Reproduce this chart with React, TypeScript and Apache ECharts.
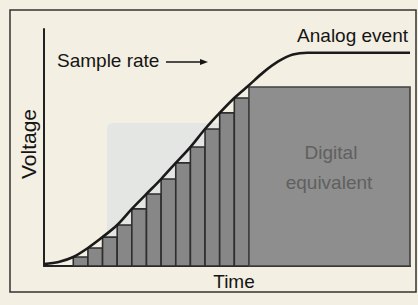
import React, { useEffect, useRef } from "react";
import * as echarts from "echarts";

// Analog event: voltage at each sample period (t = 0..25)
const analogTimes = [0, 1, 2, 3, 4, 5, 6, 7, 8, 9, 10, 11, 12, 13, 14, 15, 16, 17, 18, 19, 20, 21, 22, 23, 24, 25];
const analogValues = [0.8, 1.7, 3.8, 7.6, 12.2, 17.3, 24.1, 30.4, 36.7, 43.5, 50.2, 57.8, 64.6, 70.9, 76.3, 81.8, 86.3, 89.2, 90, 90, 90, 90, 90, 90, 90, 90];

// Digital equivalent: sample-and-hold steps
const sampleTimes = [2, 3, 4, 5, 6, 7, 8, 9, 10, 11, 12, 13];
const sampleValues = [3.8, 7.6, 12.2, 17.3, 24.1, 30.4, 36.7, 43.5, 50.2, 57.8, 64.6, 70.9];
const holdStart = 14;
const holdEnd = 25;
const holdValue = 75.5;

const axisTitles = { x: "Time", y: "Voltage" };
const labels = { sample: "Sample rate", analog: "Analog event", digital: ["Digital", "equivalent"] };

const FONT = '"Liberation Sans", Arial, Helvetica, sans-serif';

export default function App() {
  const ref = useRef<HTMLDivElement>(null);
  useEffect(() => {
    if (!ref.current) return;
    const chart = echarts.init(ref.current, undefined, { renderer: "svg" });
    const stepData: number[][] = sampleTimes.map((t, i) => [t, sampleValues[i], 1]);
    stepData.push([holdStart, holdValue, holdEnd - holdStart]);
    const option: any = {
      animation: false,
      backgroundColor: "#f3efe2",
      grid: { left: 44, top: 29, right: 8, bottom: 39 },
      xAxis: {
        type: "value",
        min: 0,
        max: 25,
        axisLine: { show: true, lineStyle: { color: "#222222", width: 2 } },
        axisTick: { show: false },
        axisLabel: { show: false },
        splitLine: { show: false },
      },
      yAxis: {
        type: "value",
        min: 0,
        max: 100,
        axisLine: { show: true, lineStyle: { color: "#222222", width: 2 } },
        axisTick: { show: false },
        axisLabel: { show: false },
        splitLine: { show: false },
      },
      series: [
        {
          type: "custom",
          z: 2,
          data: stepData,
          renderItem: (params: any, api: any) => {
            const t = api.value(0);
            const v = api.value(1);
            const w = api.value(2);
            const p0 = api.coord([t, v]);
            const p1 = api.coord([t + w, 0]);
            const isHold = w > 1;
            return {
              type: "rect",
              shape: { x: p0[0], y: p0[1], width: p1[0] - p0[0], height: p1[1] - p0[1] },
              style: {
                fill: isHold ? "#8e8e8e" : "#878787",
                stroke: isHold ? "#404040" : "#2e2e2e",
                lineWidth: 1.6,
              },
            };
          },
        },
        {
          type: "line",
          z: 5,
          data: analogTimes.map((t, i) => [t, analogValues[i]]),
          smooth: 0.3,
          symbol: "none",
          lineStyle: { color: "#1a1a1a", width: 2.6 },
        },
      ],
      graphic: [
        {
          type: "rect",
          z: -5,
          silent: true,
          shape: { x: 107, y: 123, width: 141, height: 141, r: 6 },
          style: { fill: "#e4e6e3" },
        },
        {
          type: "rect",
          z: 100,
          silent: true,
          shape: { x: 10, y: 10, width: 406, height: 282 },
          style: { fill: "none", stroke: "#333333", lineWidth: 1.5 },
        },
        {
          type: "text",
          z: 100,
          x: 57,
          y: 60,
          style: { text: labels.sample, font: `19px ${FONT}`, fill: "#151515", align: "left", verticalAlign: "middle" },
        },
        {
          type: "line",
          z: 100,
          shape: { x1: 166, y1: 62, x2: 202, y2: 62 },
          style: { stroke: "#151515", lineWidth: 1.6 },
        },
        {
          type: "polygon",
          z: 100,
          shape: { points: [[200, 59], [208, 62], [200, 65]] },
          style: { fill: "#151515" },
        },
        {
          type: "text",
          z: 100,
          x: 408,
          y: 35,
          style: { text: labels.analog, font: `19px ${FONT}`, fill: "#151515", align: "right", verticalAlign: "middle" },
        },
        {
          type: "text",
          z: 100,
          x: 234,
          y: 281,
          style: { text: axisTitles.x, font: `19px ${FONT}`, fill: "#151515", align: "center", verticalAlign: "middle" },
        },
        {
          type: "text",
          z: 100,
          x: 28,
          y: 144,
          rotation: Math.PI / 2,
          style: { text: axisTitles.y, font: `21px ${FONT}`, fill: "#151515", align: "center", verticalAlign: "middle" },
        },
        {
          type: "text",
          z: 100,
          x: 331,
          y: 152,
          style: { text: labels.digital[0], font: `19px ${FONT}`, fill: "#606060", align: "center", verticalAlign: "middle" },
        },
        {
          type: "text",
          z: 100,
          x: 329,
          y: 182,
          style: { text: labels.digital[1], font: `19px ${FONT}`, fill: "#606060", align: "center", verticalAlign: "middle" },
        },
      ],
    };
    chart.setOption(option);
    return () => chart.dispose();
  }, []);
  return (
    <div
      ref={ref}
      style={{ position: "fixed", left: 0, top: 0, width: 418, height: 305 }}
    />
  );
}
